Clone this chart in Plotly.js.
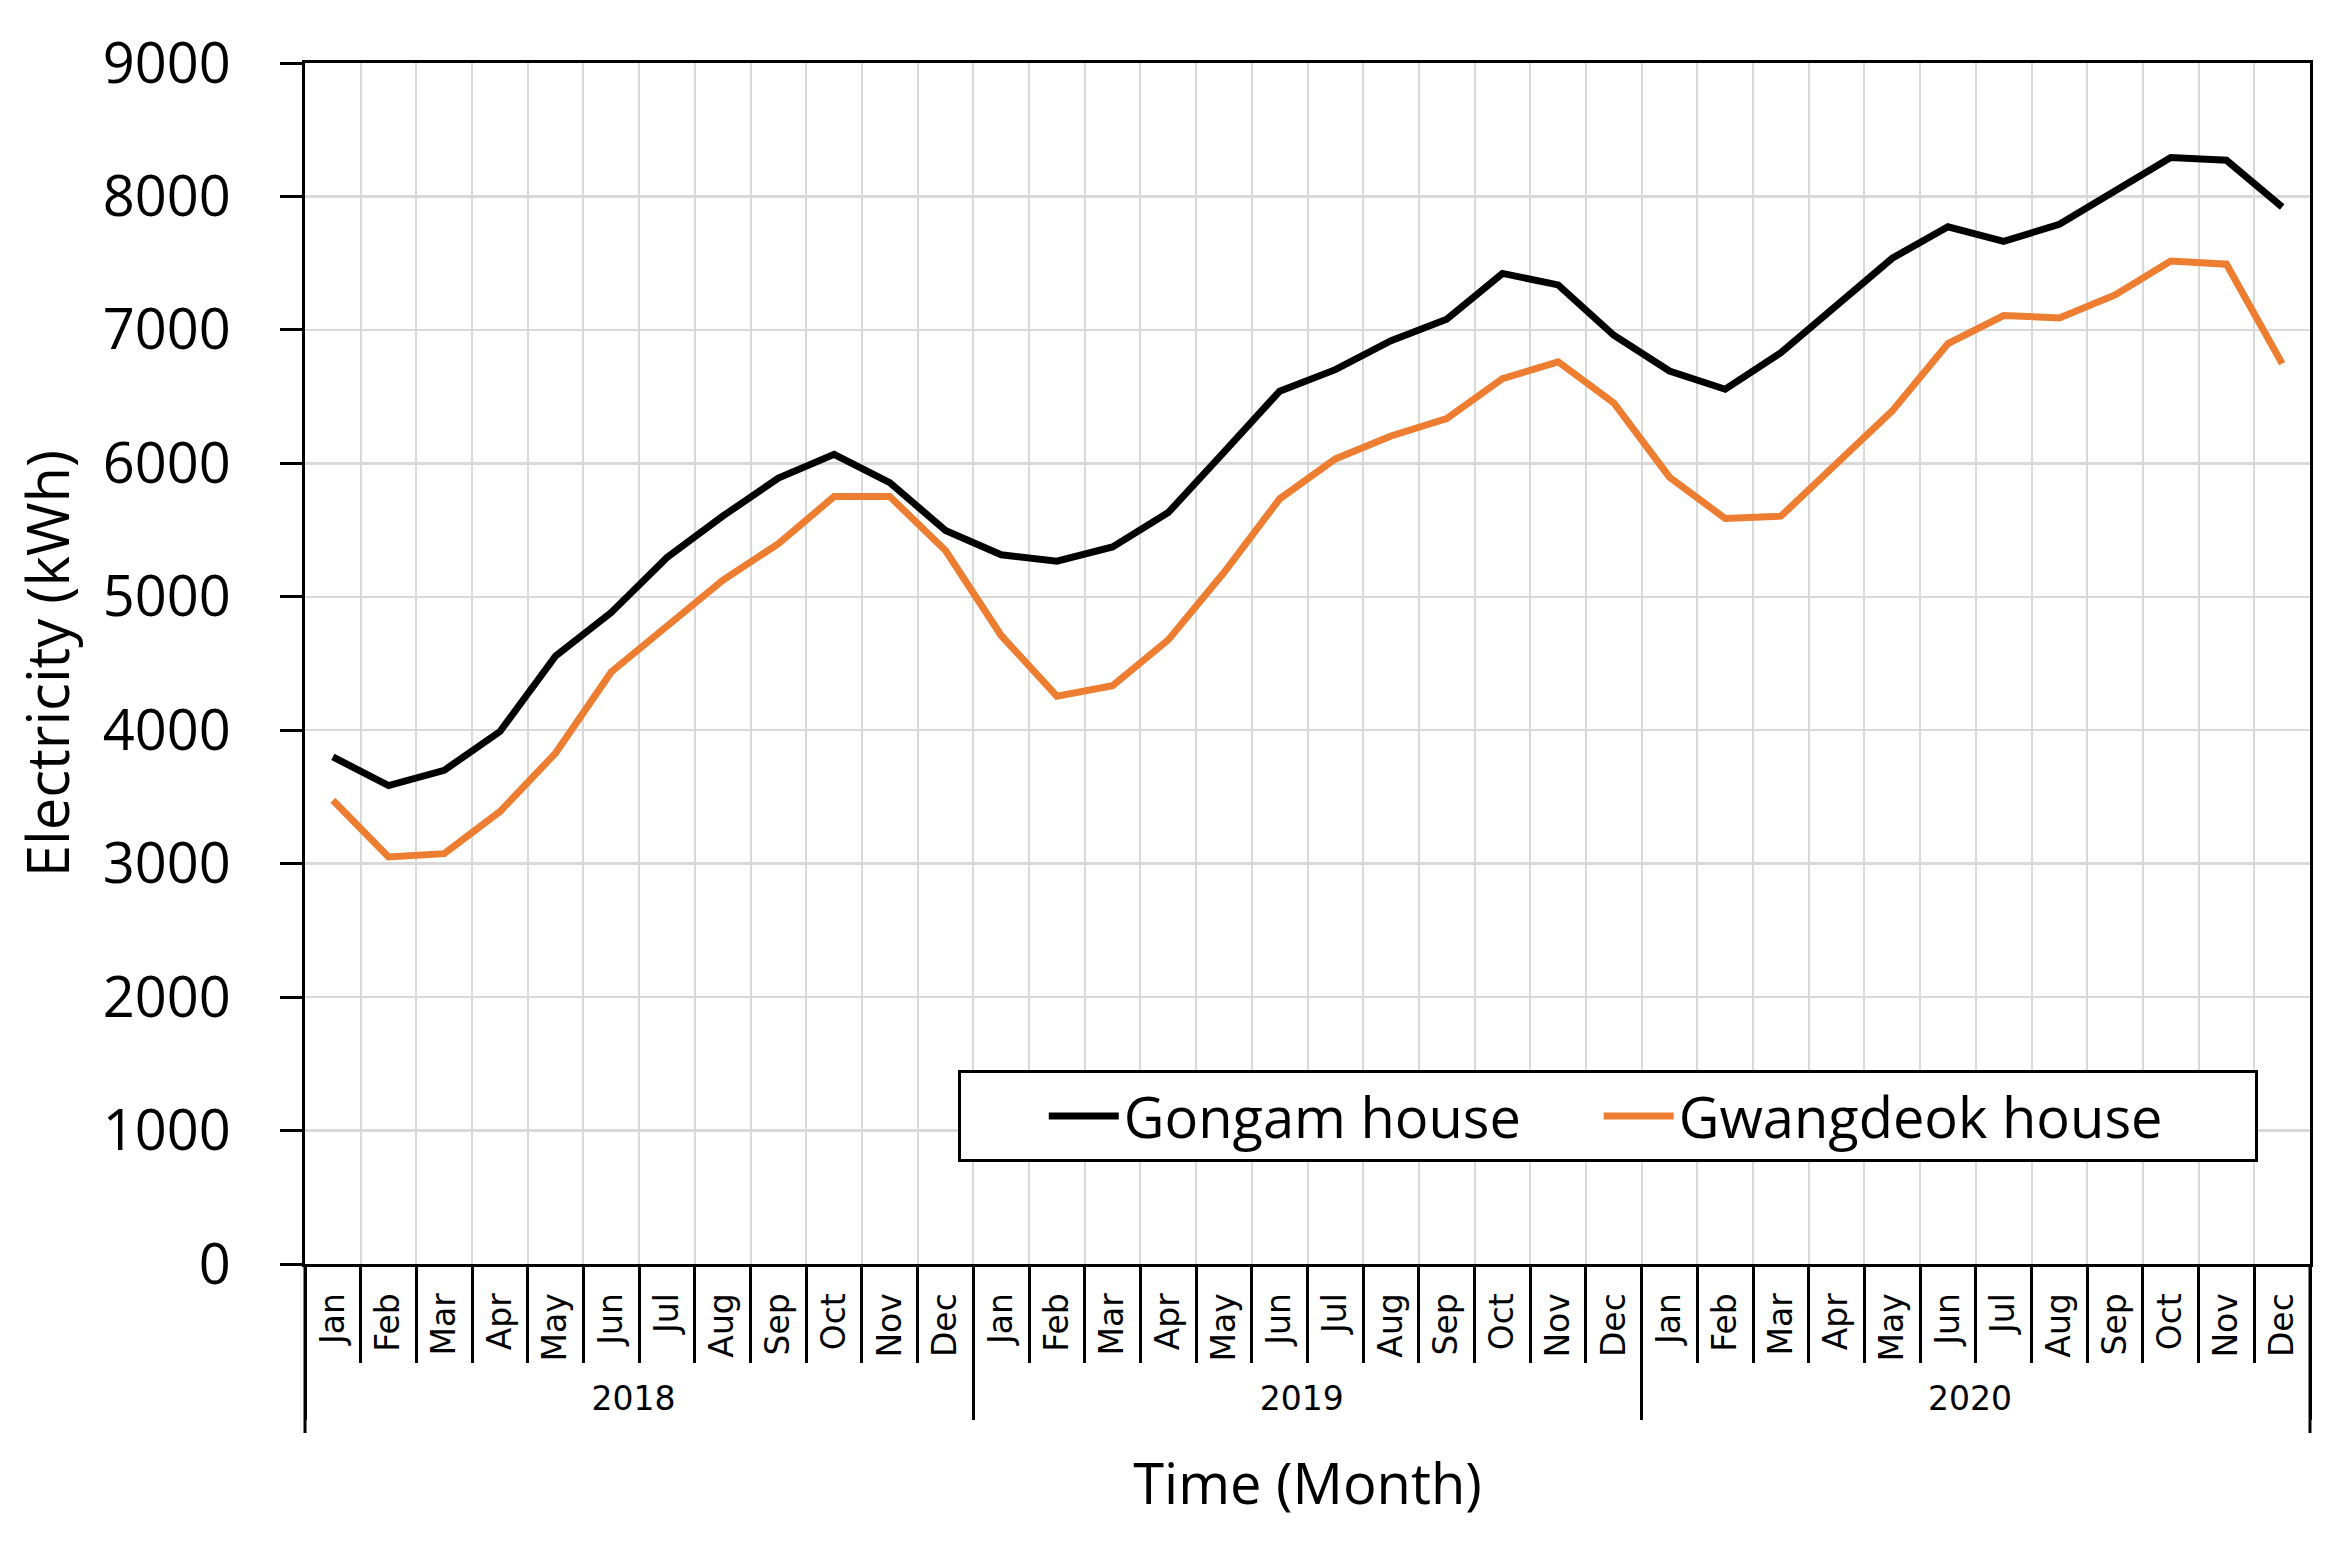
<!DOCTYPE html>
<html>
<head>
<meta charset="utf-8">
<script src="https://cdn.plot.ly/plotly-3.0.1.min.js"></script>
<style>
  html, body { margin: 0; padding: 0; background: #ffffff; }
  #chart { width: 2337px; height: 1548px; }
</style>
</head>
<body>
<div id="chart"></div>
<script>
// ---- data ----
const years = ["2018", "2019", "2020"];
const months = ["Jan", "Feb", "Mar", "Apr", "May", "Jun", "Jul", "Aug", "Sep", "Oct", "Nov", "Dec"];

const gongamHouse = [
  3800, 3585, 3700, 3990, 4557, 4883, 5295, 5604, 5889, 6067, 5855, 5497,
  5315, 5267, 5374, 5631, 6084, 6541, 6702, 6919, 7080, 7423, 7337, 6960,
  6692, 6555, 6829, 7183, 7537, 7773, 7664, 7791, 8041, 8292, 8271, 7921
];
const gwangdeokHouse = [
  3475, 3050, 3075, 3390, 3829, 4437, 4780, 5123, 5398, 5751, 5751, 5346,
  4710, 4255, 4334, 4677, 5182, 5734, 6033, 6205, 6335, 6634, 6761, 6452,
  5896, 5587, 5604, 5999, 6393, 6898, 7107, 7090, 7262, 7516, 7492, 6747
];
const seriesNames = ["Gongam house", "Gwangdeok house"];
const yTicks = [0, 1000, 2000, 3000, 4000, 5000, 6000, 7000, 8000, 9000];

// ---- build multicategory x ----
const xYear = [];
const xMonth = [];
years.forEach(y => months.forEach(m => { xYear.push(y); xMonth.push(m); }));
const nCats = xMonth.length;
const nb = (n) => "\u00a0".repeat(n);

const traces = [
  {
    type: "scatter", mode: "lines", name: seriesNames[0] + nb(5),
    x: [xYear, xMonth], y: gongamHouse,
    line: { color: "#000000", width: 7 }
  },
  {
    type: "scatter", mode: "lines", name: seriesNames[1] + nb(6),
    x: [xYear, xMonth], y: gwangdeokHouse,
    line: { color: "#ED7D31", width: 7 }
  }
];

// outer edge dividers of the two-level category axis (left and right ends)
const edgeDivider = (xp) => ({
  type: "line", xref: "paper", yref: "paper",
  x0: xp, x1: xp, y0: 0, y1: -0.1407,
  line: { color: "#000000", width: 3 }, layer: "above"
});

const layout = {
  width: 2337, height: 1548,
  margin: { l: 305, r: 27, t: 63, b: 284 },
  paper_bgcolor: "#ffffff",
  plot_bgcolor: "#ffffff",
  font: { family: "Open Sans, sans-serif", color: "#000000" },
  showlegend: true,
  legend: {
    orientation: "h",
    x: 0.3257, xanchor: "left",
    y: 0.1615, yanchor: "top",
    bgcolor: "#ffffff",
    bordercolor: "#000000", borderwidth: 3,
    font: { family: "Open Sans, sans-serif", size: 56, color: "#000000" },
    itemwidth: 70,
    title: { text: nb(5), side: "left", font: { family: "Open Sans, sans-serif", size: 56 } }
  },
  shapes: [edgeDivider(0), edgeDivider(1)],
  xaxis: {
    type: "multicategory",
    range: [-0.5, nCats - 0.5],
    showline: true, linecolor: "#000000", linewidth: 3, mirror: true,
    showgrid: true, gridcolor: "#d9d9d9", gridwidth: 2,
    ticks: "outside", ticklen: 96, tickcolor: "#000000", tickwidth: 3,
    ticklabelstandoff: 13,
    tickangle: -90,
    tickfont: { family: "DejaVu Sans, sans-serif", size: 33, color: "#000000" },
    showdividers: true, dividercolor: "#000000", dividerwidth: 3,
    title: { text: "Time (Month)", font: { family: "Open Sans, sans-serif", size: 56, color: "#000000" }, standoff: 48 },
    automargin: false
  },
  yaxis: {
    range: [0, 9000],
    tickvals: yTicks,
    ticktext: yTicks.map(String),
    showline: true, linecolor: "#000000", linewidth: 3, mirror: true,
    showgrid: true, gridcolor: "#d9d9d9", gridwidth: 2.5,
    zeroline: false,
    ticks: "outside", ticklen: 22, tickcolor: "#000000", tickwidth: 3,
    ticklabelstandoff: 38,
    tickfont: { family: "Open Sans, sans-serif", size: 56, color: "#000000" },
    title: { text: "Electricity (kWh)", font: { family: "Open Sans, sans-serif", size: 58, color: "#000000" }, standoff: 15 },
    automargin: false
  }
};

Plotly.newPlot("chart", traces, layout, { displayModeBar: false, staticPlot: true });
</script>
</body>
</html>
